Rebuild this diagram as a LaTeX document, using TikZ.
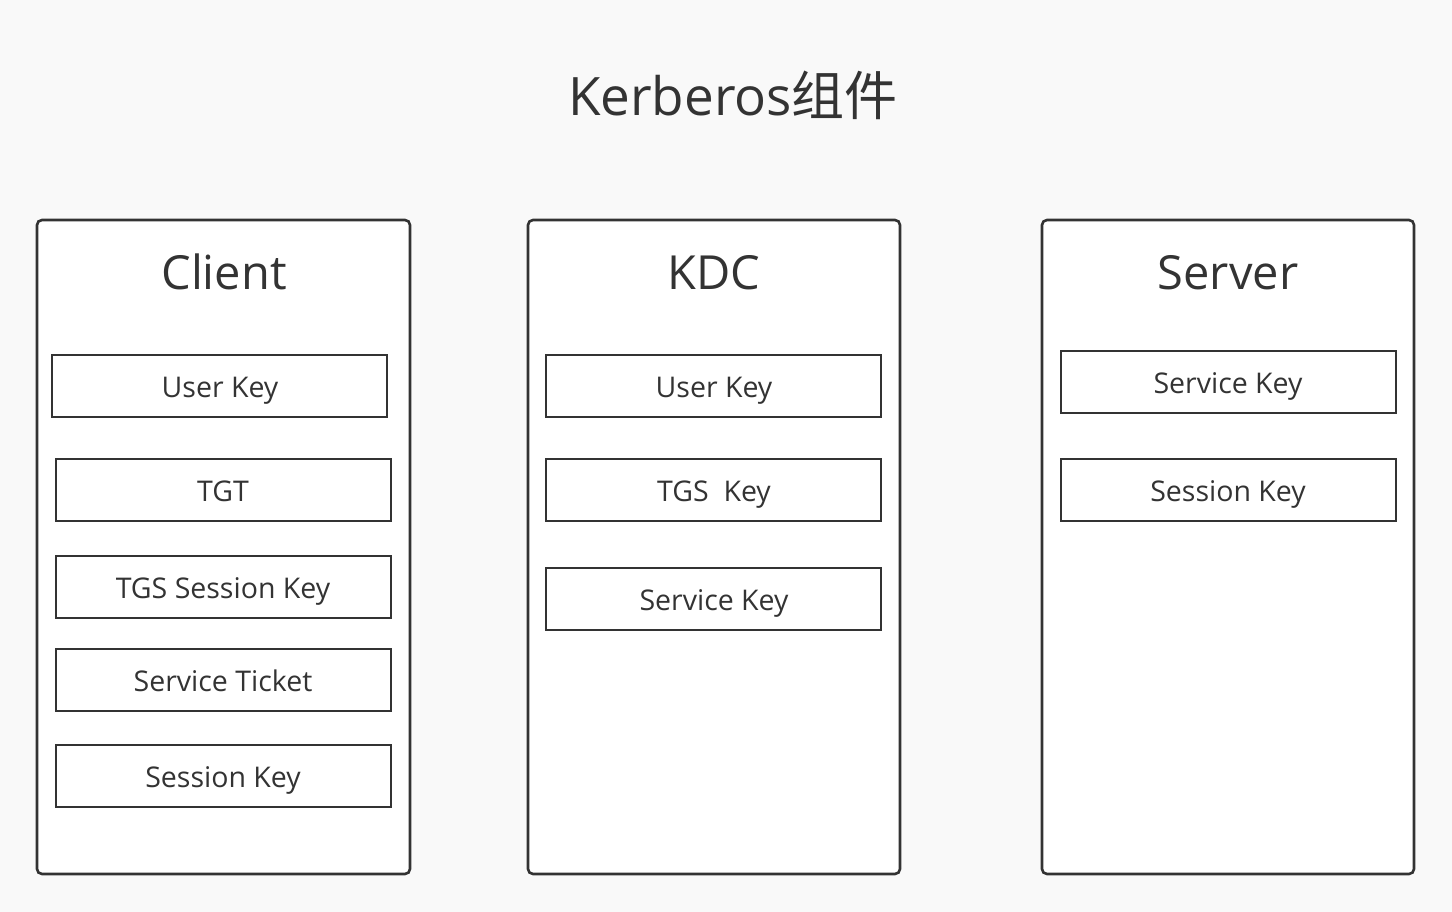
\documentclass[tikz,border=0pt]{standalone}
\usepackage{fontspec}
\setmainfont{Open Sans}
\newfontfamily\cjk{Noto Sans CJK SC}
\definecolor{ink}{HTML}{333333}
\definecolor{bg}{HTML}{F9F9F9}
\begin{document}
\begin{tikzpicture}[x=1pt,y=-1pt,
  panel/.style={draw=ink,line width=2.6pt,fill=white,rounded corners=5pt},
  keybox/.style={draw=ink,line width=2.8pt,fill=white},
  lbl/.style={text=ink,font=\fontsize{28.5}{32}\selectfont,inner sep=0pt,anchor=base},
  ttl/.style={text=ink,font=\fontsize{47}{52}\selectfont,inner sep=0pt,anchor=base}]
\fill[bg] (0,0) rectangle (1452,912);
\useasboundingbox (0,0) rectangle (1452,912);
\node[text=ink,font=\fontsize{53}{58}\selectfont,inner sep=0pt,anchor=base] (title) at (733,116) {Kerberos{\cjk 组件}};
% panels
\draw[panel] (37,220) rectangle (410,874);
\draw[panel] (528,220) rectangle (900,874);
\draw[panel] (1042,220) rectangle (1414,874);
\node[ttl] (client) at (224,290) {Client};
\node[ttl] (kdc) at (714,290) {KDC};
\node[ttl] (server) at (1228,290) {Server};
% client boxes
\draw[keybox] (52,355) rectangle (387,417);
\node[lbl] (c1) at (220,397) {User Key};
\draw[keybox] (56,459) rectangle (391,521);
\node[lbl] (c2) at (223,501) {TGT};
\draw[keybox] (56,556) rectangle (391,618);
\node[lbl] (c3) at (223,598) {TGS Session Key};
\draw[keybox] (56,649) rectangle (391,711);
\node[lbl] (c4) at (223,691) {Service Ticket};
\draw[keybox] (56,745) rectangle (391,807);
\node[lbl] (c5) at (223,787) {Session Key};
% kdc boxes
\draw[keybox] (546,355) rectangle (881,417);
\node[lbl] (k1) at (714,397) {User Key};
\draw[keybox] (546,459) rectangle (881,521);
\node[lbl] (k2) at (714,501) {TGS\ \ Key};
\draw[keybox] (546,568) rectangle (881,630);
\node[lbl] (k3) at (714,610) {Service Key};
% server boxes
\draw[keybox] (1061,351) rectangle (1396,413);
\node[lbl] (s1) at (1228,393) {Service Key};
\draw[keybox] (1061,459) rectangle (1396,521);
\node[lbl] (s2) at (1228,501) {Session Key};
\end{tikzpicture}
\end{document}
